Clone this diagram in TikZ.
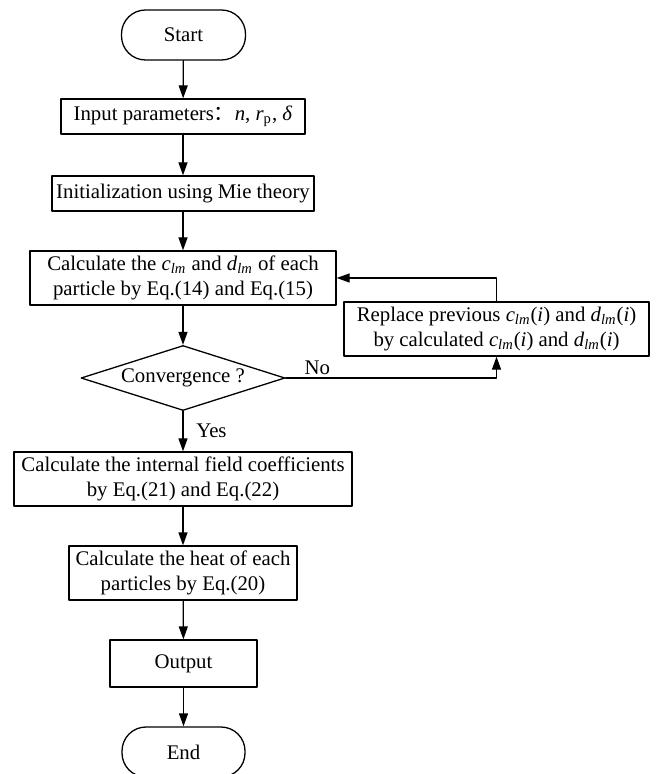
\documentclass[tikz,border=0pt]{standalone}
\usepackage{fontspec}
\setmainfont{Liberation Serif}
\newfontfamily\cjk{Noto Sans CJK SC}
\usepackage{tikz}
\usetikzlibrary{arrows.meta,shapes.geometric}

\tikzset{
    box/.style={draw,line width=0.65pt,rectangle,align=center,inner sep=1pt,font=\fontsize{10.4pt}{12.5pt}\selectfont},
    term/.style={box,rounded corners=12pt},
    decide/.style={draw,line width=0.65pt,diamond,aspect=3.14,inner sep=0pt,font=\fontsize{10.4pt}{12.5pt}\selectfont},
    arr/.style={-{Triangle[length=6.5pt,width=4.5pt]},line width=0.65pt}
}
\newcommand{\clm}{\textit{c}\textsubscript{\textit{lm}}}
\newcommand{\dlm}{\textit{d}\textsubscript{\textit{lm}}}

\begin{document}
\begin{tikzpicture}[line cap=round,line join=round,x=0.5pt,y=-0.5pt]

    \useasboundingbox (0,0) rectangle (656,774);

    \node[term,minimum width=62pt,minimum height=25pt] (start) at (183.5,35) {Start};
    \node[box,minimum width=122pt,minimum height=17.5pt] (input) at (183,116.5)
        {Input parameters{\cjk ：}\textit{n}, \textit{r}\textsubscript{p}, \textit{δ}};
    \node[box,minimum width=131pt,minimum height=17.5pt] (init) at (183,193.5)
        {Initialization using Mie theory};
    \node[box,minimum width=153pt,minimum height=27pt] (calc) at (183,278)
        {Calculate the \clm{} and \dlm{} of each\\particle by Eq.(14) and Eq.(15)};
    \node[decide,minimum width=102pt,minimum height=32.5pt] (conv) at (183,378) {Convergence ?};
    \node[box,minimum width=152.5pt,minimum height=27pt] (rep) at (496.5,329)
        {Replace previous \clm(\textit{i}) and \dlm(\textit{i})\\by calculated \clm(\textit{i}) and \dlm(\textit{i})};
    \node[box,minimum width=169pt,minimum height=27pt] (field) at (183,479)
        {Calculate the internal field coefficients\\by Eq.(21) and Eq.(22)};
    \node[box,minimum width=114pt,minimum height=27pt] (heat) at (183,573)
        {Calculate the heat of each\\particles by Eq.(20)};
    \node[box,minimum width=73.5pt,minimum height=23.5pt] (out) at (183.5,663.5) {Output};
    \node[term,minimum width=61.5pt,minimum height=25pt] (end) at (183.5,752) {End};

    %\draw [xstep=50,ystep=50] (0,0) grid (656,774);
    \draw[arr] (start) -- (input);
    \draw[arr] (input) -- (init);
    \draw[arr] (init) -- (calc);
    \draw[arr] (calc) -- (conv);
    \draw[arr] (conv.east) -- node[pos=0.15,above,inner sep=1.5pt,font=\fontsize{10.4pt}{12pt}\selectfont] {No} (conv.east -| rep.south) -- (rep.south);
    \draw[arr] (rep.north) |- (calc.east);
    \draw[arr] (conv.south) -- node[right,xshift=3pt,font=\fontsize{10.4pt}{12pt}\selectfont] {Yes} (field.north);
    \draw[arr] (field) -- (heat);
    \draw[arr] (heat) -- (out);
    \draw[arr] (out) -- (end);
\end{tikzpicture}
\end{document}
